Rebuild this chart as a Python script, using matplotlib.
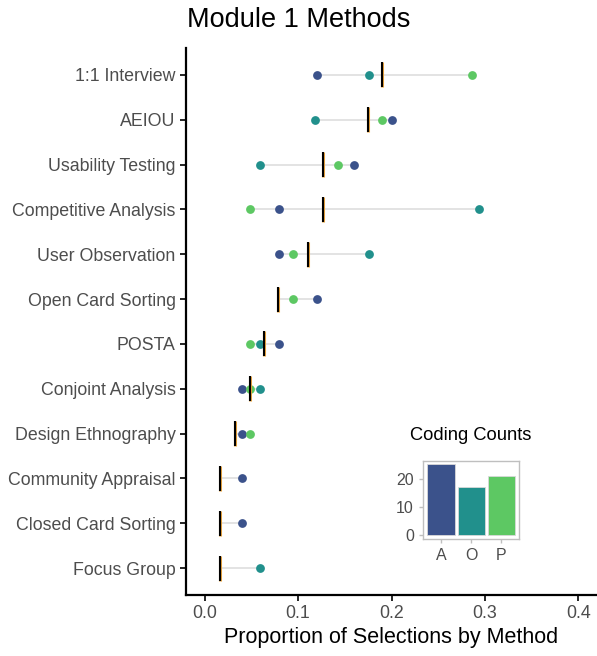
import numpy as np
import matplotlib
matplotlib.use("Agg")
import matplotlib.pyplot as plt

plt.rcParams['font.family'] = ['Liberation Sans', 'DejaVu Sans']

# methods, top to bottom
methods = ["1:1 Interview", "AEIOU", "Usability Testing", "Competitive Analysis",
           "User Observation", "Open Card Sorting", "POSTA", "Conjoint Analysis",
           "Design Ethnography", "Community Appraisal", "Closed Card Sorting",
           "Focus Group"]

# proportion of selections per coding group (nan = not selected)
prop_a = [0.120, 0.200, 0.160, 0.080, 0.080, 0.120, 0.080, 0.040, 0.040, 0.040, 0.040, np.nan]
prop_o = [0.176, 0.118, 0.059, 0.294, 0.176, np.nan, 0.059, 0.059, np.nan, np.nan, np.nan, 0.059]
prop_p = [0.286, 0.190, 0.143, 0.048, 0.095, 0.095, 0.048, 0.048, 0.048, np.nan, np.nan, np.nan]
# overall proportion (vertical marker)
prop_all = [0.190, 0.175, 0.127, 0.127, 0.111, 0.079, 0.063, 0.048, 0.032, 0.016, 0.016, 0.016]

codes = ["A", "O", "P"]
code_counts = [25, 17, 21]
colors = ["#3B528B", "#21908C", "#5DC863"]

fig = plt.figure(figsize=(5.97, 6.56), dpi=100)
ax = fig.add_axes([0.3116, 0.093, 0.6884, 0.8338])

ypos = np.arange(len(methods))[::-1]
A = np.array(prop_a); O = np.array(prop_o); P = np.array(prop_p); T = np.array(prop_all)
stack = np.vstack([A, O, P, T])
lo = np.nanmin(stack, axis=0)
hi = np.nanmax(stack, axis=0)

ax.hlines(ypos, lo, hi, color="#E3E3E3", lw=1.4, zorder=1)
for vals, c in zip([A, O, P], colors):
    ax.scatter(vals, ypos, s=40, color=c, zorder=3, linewidths=0)
ax.vlines(T, ypos - 0.28, ypos + 0.28, color="#E8A33D", lw=2.2, zorder=4)
ax.vlines(T, ypos - 0.28, ypos + 0.28, color="black", lw=1.5, zorder=5)

ax.set_xlim(-0.02, 0.42)
ax.set_ylim(-0.6, len(methods) - 0.4)
ax.set_yticks(ypos)
ax.set_yticklabels(methods)
ax.set_xticks([0, 0.1, 0.2, 0.3, 0.4])
ax.set_xticklabels(["0.0", "0.1", "0.2", "0.3", "0.4"])
ax.tick_params(axis="both", colors="black", labelcolor="#4D4D4D", labelsize=12.8,
               length=4, width=1.2)
for s in ["top", "right"]:
    ax.spines[s].set_visible(False)
for s in ["left", "bottom"]:
    ax.spines[s].set_linewidth(1.6)
ax.set_xlabel("Proportion of Selections by Method", fontsize=15.5, labelpad=3)
fig.text(0.5, 0.969, "Module 1 Methods", ha="center", va="center", fontsize=19.5)

# inset with coding counts
ins = fig.add_axes([0.7085, 0.1784, 0.161, 0.119])
ins.bar(codes, code_counts, width=0.9, color=colors, edgecolor="#D9D9D9", linewidth=0.6)
ins.set_xlim(-0.6, 2.6)
ins.set_ylim(-1.25, 26.25)
ins.set_yticks([0, 10, 20])
ins.tick_params(colors="#BFBFBF", labelcolor="#4D4D4D", labelsize=11.5, length=3, width=1)
for s in ins.spines.values():
    s.set_color("#BFBFBF")
    s.set_linewidth(1)
ins.set_title("Coding Counts", fontsize=13.2, pad=15)

fig.savefig("out.png", dpi=100)
